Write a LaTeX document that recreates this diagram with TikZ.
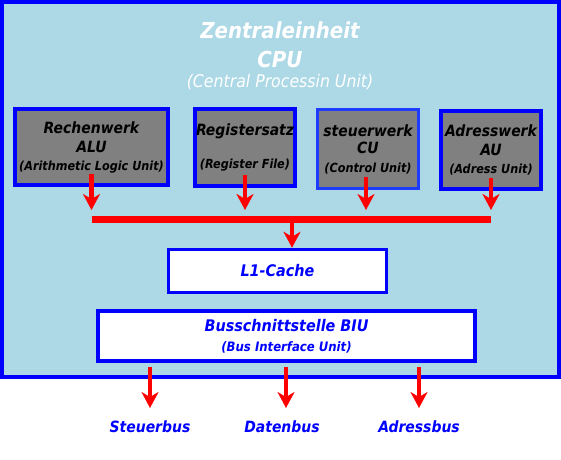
\documentclass[tikz,border=0pt]{standalone}
\usepackage{fontspec}
\setmainfont{DejaVu Sans Condensed}
\usetikzlibrary{positioning,arrows.meta}
\definecolor{cpubg}{HTML}{ADD8E6}
\definecolor{cuframe}{HTML}{1E3CFF}
\newcommand{\fsz}[2]{\fontsize{#1}{#2}\selectfont}

\begin{document}
\begin{tikzpicture}[x=1pt,y=-1pt]
		\tikzstyle{every node}+=[inner sep=0pt]
		\tikzstyle{unit}=[draw=blue, line width=4pt, fill=gray, text=black, align=center, minimum width=100pt, minimum height=77pt, font=\bfseries\itshape\fsz{15.5}{19}]
		\tikzstyle{whitebox}=[draw=blue, line width=4pt, fill=white, text=blue, align=center, font=\bfseries\itshape\fsz{16}{20}]
		\tikzstyle{flow}=[draw=red, line width=4.3pt, -{Stealth[width=17pt,length=16pt,inset=5pt]}]
		\tikzstyle{buslabel}=[text=blue, anchor=north, font=\bfseries\itshape\fsz{15.5}{18}]
		\useasboundingbox (0,0) rectangle (561,459);
		\fill [white] (0,0) rectangle (561,459);
		% Zentraleinheit
		\node [draw=blue, line width=4pt, fill=cpubg, minimum width=557pt, minimum height=374.5pt] (cpu) at (280.5,189.25) {};
		\node [text=white, align=center, font=\bfseries\itshape\fsz{22}{29}] (title) at (280,56) {Zentraleinheit\\CPU\\[-9pt]{\mdseries\fsz{17.5}{21}(Central Processin Unit)}};
		% Werke
		\node [unit, minimum width=153pt, minimum height=76pt] (alu) at (91.5,147) {Rechenwerk\\ALU\\[-1pt]{\fsz{12.5}{18}(Arithmetic Logic Unit)}};
		\node [unit] (reg) at (245,147.5) {Registersatz\\[14pt]{\fsz{12.5}{19}(Register File)}};
		\node [unit, draw=cuframe, line width=3pt, minimum width=101pt, minimum height=79pt] (cu) at (368,149) {steuerwerk\\[-2pt]CU\\{\fsz{12.5}{19}(Control Unit)}};
		\node [unit, minimum height=78pt] (au) at (491,150) {Adresswerk\\AU\\[-1pt]{\fsz{12.5}{18}(Adress Unit)}};
		% Cache und BIU
		\node [whitebox, line width=3.5pt, minimum width=218pt, minimum height=43pt] (cache) at (277.5,271) {L1-Cache};
		\node [whitebox, minimum width=377pt, minimum height=50pt] (biu) at (286.5,336) {Busschnittstelle BIU\\{\fsz{13}{20}(Bus Interface Unit)}};
		% Busse
		\node [buslabel] (steuer) at (150,421) {Steuerbus};
		\node [buslabel] (daten) at (282,421) {Datenbus};
		\node [buslabel] (adress) at (419,421) {Adressbus};
		% interner Bus
		\coordinate (barmid) at (292,219);
		\draw [red, line width=7pt] (alu.south |- barmid) -- (au.south |- barmid);
		\draw [flow, shorten >=9pt] ([yshift=13pt]alu.south) -- (alu.south |- barmid);
		\draw [flow, shorten >=9pt] ([yshift=13pt]reg.south) -- (reg.south |- barmid);
		\draw [flow, shorten >=9pt] ([xshift=-2pt,yshift=13pt]cu.south) -- ([xshift=-2pt]cu.south |- barmid);
		\draw [flow, shorten >=9pt] ([yshift=13pt]au.south) -- (au.south |- barmid);
		\draw [flow] (barmid) -- (barmid |- cache.north);
		\draw [flow, shorten <=4pt, shorten >=13pt] (steuer.north |- biu.south) -- (steuer.north);
		\draw [flow, shorten <=4pt, shorten >=13pt] ([xshift=4pt]daten.north |- biu.south) -- ([xshift=4pt]daten.north);
		\draw [flow, shorten <=4pt, shorten >=13pt] (adress.north |- biu.south) -- (adress.north);
		\end{tikzpicture}
\end{document}
